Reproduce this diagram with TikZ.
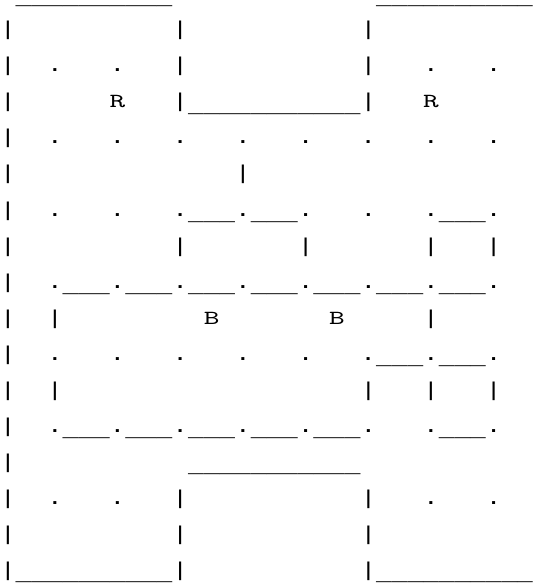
\documentclass[tikz,border=0pt]{standalone}
\usepackage{fontspec}
\usepackage{tikz}
\newfontfamily\boardfont{Liberation Mono}[FakeStretch=1.306]
\newfontfamily\piecefont{lmmono10-regular.otf}[FakeStretch=1.492]
\newcommand{\wallrun}[1]{\raisebox{-4.5pt}{#1}}
\newcommand{\piece}[1]{{\piecefont #1}}
\tikzset{
	boardrow/.style={anchor=base west, inner sep=0pt, outer sep=0pt,
		font=\fontsize{20pt}{36pt}\boardfont}
}
\begin{document}
\begin{tikzpicture}
			\useasboundingbox (0pt,0pt) rectangle (534pt,-585pt);
			% one node per text row of the board
			\node[boardrow] (row1) at (0pt,0pt) {~\wallrun{\_\_\_\_\_\_\_\_\_\_}~~~~~~~~~~~~~\wallrun{\_\_\_\_\_\_\_\_\_\_}};
			\node[boardrow] (row2) at (0pt,-36pt) {|~~~~~~~~~~|~~~~~~~~~~~|};
			\node[boardrow] (row3) at (0pt,-72pt) {|~~.~~~.~~~|~~~~~~~~~~~|~~~.~~~.};
			\node[boardrow] (row4) at (0pt,-108pt) {|~~~~~~\piece{R}~~~|\wallrun{\_\_\_\_\_\_\_\_\_\_\_}|~~~\piece{R}};
			\node[boardrow] (row5) at (0pt,-144pt) {|~~.~~~.~~~.~~~.~~~.~~~.~~~.~~~.};
			\node[boardrow] (row6) at (0pt,-180pt) {|~~~~~~~~~~~~~~|};
			\node[boardrow] (row7) at (0pt,-216pt) {|~~.~~~.~~~.\wallrun{\_\_\_}.\wallrun{\_\_\_}.~~~.~~~.\wallrun{\_\_\_}.};
			\node[boardrow] (row8) at (0pt,-252pt) {|~~~~~~~~~~|~~~~~~~|~~~~~~~|~~~|};
			\node[boardrow] (row9) at (0pt,-288pt) {|~~.\wallrun{\_\_\_}.\wallrun{\_\_\_}.\wallrun{\_\_\_}.\wallrun{\_\_\_}.\wallrun{\_\_\_}.\wallrun{\_\_\_}.\wallrun{\_\_\_}.};
			\node[boardrow] (row10) at (0pt,-324pt) {|~~|~~~~~~~~~\piece{B}~~~~~~~\piece{B}~~~~~|};
			\node[boardrow] (row11) at (0pt,-360pt) {|~~.~~~.~~~.~~~.~~~.~~~.\wallrun{\_\_\_}.\wallrun{\_\_\_}.};
			\node[boardrow] (row12) at (0pt,-396pt) {|~~|~~~~~~~~~~~~~~~~~~~|~~~|~~~|};
			\node[boardrow] (row13) at (0pt,-432pt) {|~~.\wallrun{\_\_\_}.\wallrun{\_\_\_}.\wallrun{\_\_\_}.\wallrun{\_\_\_}.\wallrun{\_\_\_}.~~~.\wallrun{\_\_\_}.};
			\node[boardrow] (row14) at (0pt,-468pt) {|~~~~~~~~~~~\wallrun{\_\_\_\_\_\_\_\_\_\_\_}};
			\node[boardrow] (row15) at (0pt,-504pt) {|~~.~~~.~~~|~~~~~~~~~~~|~~~.~~~.};
			\node[boardrow] (row16) at (0pt,-540pt) {|~~~~~~~~~~|~~~~~~~~~~~|};
			\node[boardrow] (row17) at (0pt,-576pt) {|\wallrun{\_\_\_\_\_\_\_\_\_\_}|~~~~~~~~~~~|\wallrun{\_\_\_\_\_\_\_\_\_\_}};
		\end{tikzpicture}
\end{document}
